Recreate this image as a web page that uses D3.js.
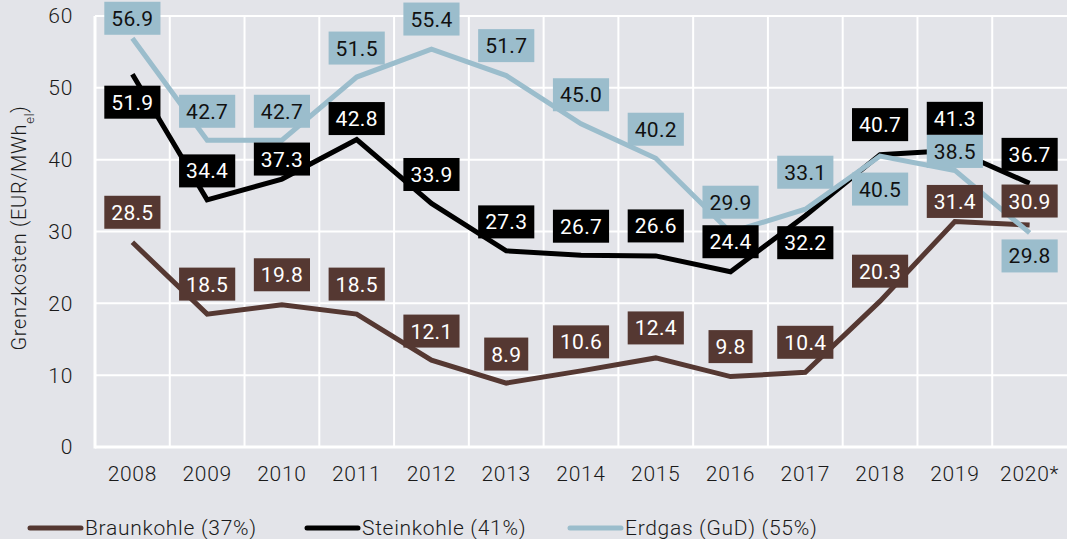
<!DOCTYPE html>
<html>
<head>
<meta charset="utf-8">
<script src="https://cdn.jsdelivr.net/npm/d3@7"></script>
<style>
  html, body { margin: 0; padding: 0; background: #e3e4e9; }
  svg { display: block; font-family: Roboto, "Open Sans", sans-serif; font-weight: 300; letter-spacing: 0.7px; }
</style>
</head>
<body>
<script>
/** Data */
const years = ["2008", "2009", "2010", "2011", "2012", "2013", "2014", "2015", "2016", "2017", "2018", "2019", "2020*"];
const braunkohle = [28.5, 18.5, 19.8, 18.5, 12.1, 8.9, 10.6, 12.4, 9.8, 10.4, 20.3, 31.4, 30.9];
const steinkohle = [51.9, 34.4, 37.3, 42.8, 33.9, 27.3, 26.7, 26.6, 24.4, 32.2, 40.7, 41.3, 36.7];
const erdgas = [56.9, 42.7, 42.7, 51.5, 55.4, 51.7, 45.0, 40.2, 29.9, 33.1, 40.5, 38.5, 29.8];
const seriesNames = ["Braunkohle (37%)", "Steinkohle (41%)", "Erdgas (GuD) (55%)"];
const yTicks = [0, 10, 20, 30, 40, 50, 60];

/** Layout: vertical shift of each value box from its point (px) */
const braunLabelDy = [-30, -30, -30, -30, -29, -29, -29, -30, -30, -30, -30, -20, -24];
const steinLabelDy = [28, -29, -20, -21, -29, -29, -29, -30, -30, 27, -30, -32, -29];
const erdgasLabelDy = [-20, -29, -29, -29, -30, -30, -29, -29, -30, -37, 33, -19, 23];

const width = 1067;
const height = 539;
const margin = { left: 95, right: 0, top: 16, bottom: 92 };

const series = [
  { name: seriesNames[0], values: braunkohle, dy: braunLabelDy, color: "#553832", text: "#ffffff" },
  { name: seriesNames[1], values: steinkohle, dy: steinLabelDy, color: "#000000", text: "#ffffff" },
  { name: seriesNames[2], values: erdgas, dy: erdgasLabelDy, color: "#9bbdcc", text: "#111111" }
];

const svg = d3.select("body").append("svg")
  .attr("width", width)
  .attr("height", height);

const x = d3.scaleBand()
  .domain(years)
  .range([margin.left, width - margin.right]);

const y = d3.scaleLinear()
  .domain([0, 60])
  .range([height - margin.bottom, margin.top]);

// grid
const grid = svg.append("g");
grid.selectAll("line.h")
  .data(yTicks)
  .enter().append("line")
  .attr("x1", margin.left).attr("x2", width - margin.right)
  .attr("y1", d => y(d)).attr("y2", d => y(d))
  .attr("stroke", "#ffffff")
  .attr("stroke-width", d => d === 0 ? 3 : 2);

grid.selectAll("line.v")
  .data(years.slice(1))
  .enter().append("line")
  .attr("x1", d => x(d)).attr("x2", d => x(d))
  .attr("y1", y(60)).attr("y2", y(0))
  .attr("stroke", "#ffffff")
  .attr("stroke-width", 2);

grid.append("line")
  .attr("x1", margin.left).attr("x2", margin.left)
  .attr("y1", y(60)).attr("y2", y(0) + 1.5)
  .attr("stroke", "#ffffff")
  .attr("stroke-width", 3);

// y axis labels
svg.append("g").selectAll("text")
  .data(yTicks)
  .enter().append("text")
  .attr("x", 73)
  .attr("y", d => y(d))
  .attr("dy", "0.35em")
  .attr("text-anchor", "end")
  .attr("font-size", "21px")
  .attr("fill", "#1a1a1a")
  .text(d => d);

// x axis labels
svg.append("g").selectAll("text")
  .data(years)
  .enter().append("text")
  .attr("x", d => x(d) + x.bandwidth() / 2)
  .attr("y", 481)
  .attr("text-anchor", "middle")
  .attr("font-size", "21px")
  .attr("fill", "#1a1a1a")
  .text(d => d);

// y title
const yTitle = svg.append("text")
  .attr("transform", "translate(26," + 228 + ") rotate(-90)")
  .attr("text-anchor", "middle")
  .attr("font-size", "20px")
  .attr("fill", "#1a1a1a");
yTitle.append("tspan").text("Grenzkosten (EUR/MWh");
yTitle.append("tspan").attr("baseline-shift", "sub").attr("font-size", "13px").text("el");
yTitle.append("tspan").text(")");

// lines
const line = d3.line()
  .x((d, i) => x(years[i]) + x.bandwidth() / 2)
  .y(d => y(d));

series.forEach(s => {
  svg.append("path")
    .attr("d", line(s.values))
    .attr("fill", "none")
    .attr("stroke", s.color)
    .attr("stroke-width", 5)
    .attr("stroke-linejoin", "miter");
});

// value boxes
series.forEach(s => {
  const g = svg.append("g");
  s.values.forEach((v, i) => {
    const cx = x(years[i]) + x.bandwidth() / 2;
    const cy = y(v) + s.dy[i];
    const box = g.append("rect").attr("fill", s.color);
    const t = g.append("text")
      .attr("x", cx)
      .attr("y", cy)
      .attr("dy", "0.36em")
      .attr("text-anchor", "middle")
      .attr("font-size", "21px")
      .attr("font-weight", 400)
      .attr("letter-spacing", "0.3px")
      .attr("fill", s.text)
      .text(v.toFixed(1));
    const w = t.node().getComputedTextLength() + 14;
    box.attr("x", cx - w / 2)
      .attr("y", cy - 16.5)
      .attr("width", w)
      .attr("height", 33);
  });
});

// legend
const legendX = [30, 307, 570];
const legend = svg.append("g");
series.forEach((s, i) => {
  legend.append("line")
    .attr("x1", legendX[i]).attr("x2", legendX[i] + 51)
    .attr("y1", 528).attr("y2", 528)
    .attr("stroke", s.color)
    .attr("stroke-width", 5)
    .attr("stroke-linecap", "round");
  legend.append("text")
    .attr("x", legendX[i] + 55)
    .attr("y", 535)
    .attr("font-size", "21px")
    .attr("fill", "#1a1a1a")
    .text(s.name);
});
</script>
</body>
</html>
